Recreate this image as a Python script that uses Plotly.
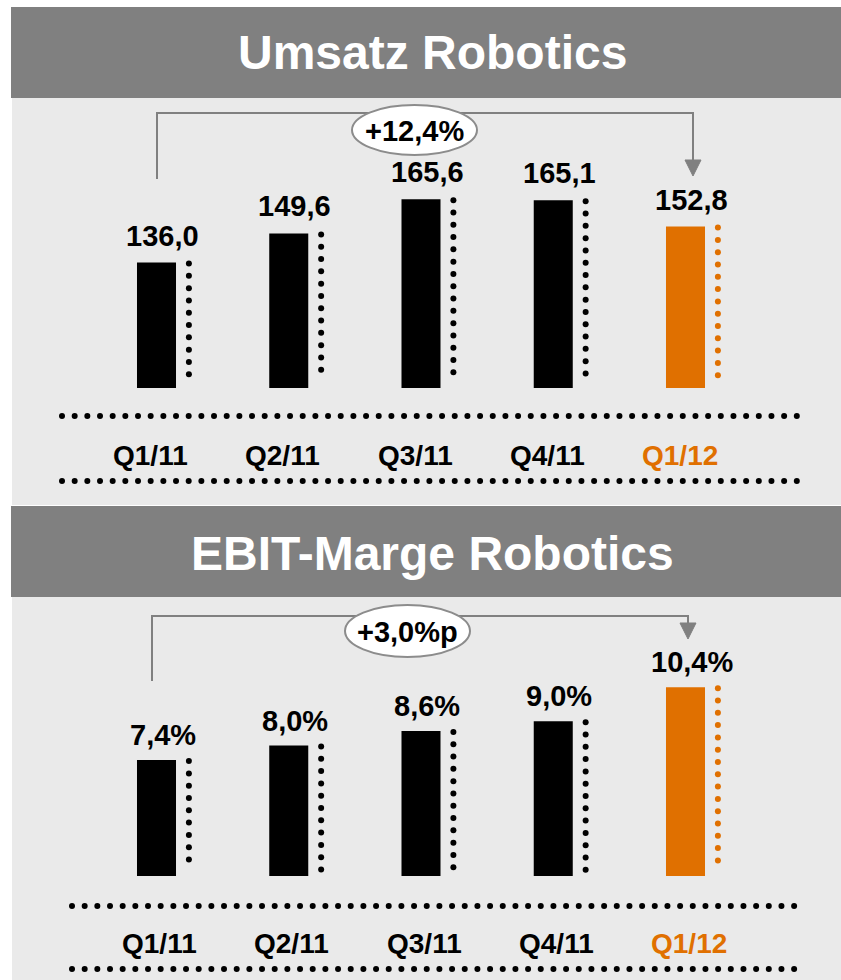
import numpy as np
import plotly.graph_objects as go

# ---------------- data ----------------
quarters = ["Q1/11", "Q2/11", "Q3/11", "Q4/11", "Q1/12"]
umsatz = [136.0, 149.6, 165.6, 165.1, 152.8]
umsatz_labels = ["136,0", "149,6", "165,6", "165,1", "152,8"]
ebit = [7.4, 8.0, 8.6, 9.0, 10.4]
ebit_labels = ["7,4%", "8,0%", "8,6%", "9,0%", "10,4%"]
titles = ["Umsatz Robotics", "EBIT-Marge Robotics"]
changes = ["+12,4%", "+3,0%p"]

# ---------------- style ----------------
W, H = 841, 980
BLACK = "#000000"
ORANGE = "#E07000"
HEADER = "#808080"
PANEL = "#EAEAEA"
BRACKET = "#808080"
FONT = "Liberation Sans, Arial, Helvetica, sans-serif"
colors = [BLACK, BLACK, BLACK, BLACK, ORANGE]
DOT_GAP = 12.3   # px between dots
DOT_SIZE = 6


def px(x):
    return x / W


def py(y):
    return 1 - y / H


idx = list(range(len(quarters)))
X0 = -156.5 / 132.25
X1 = X0 + W / 132.25
BAR_W = 0.295
DOT_OFF = 0.245

panels = [
    dict(vals=umsatz, labels=umsatz_labels, xa="x", ya="y", ypx=(388, 100),
         yr=(77.44, 211.9), head=(7, 98), panel=(98, 505), title_y=53,
         dots=(416, 481), dots_x=(62, 798), tick_y=455, lbl_shift=9,
         bracket=dict(xl=157, xr=693, yh=113, yl=179, ya=160),
         ell=(414.5, 130, 125, 50), tick_shift=-6),
    dict(vals=ebit, labels=ebit_labels, xa="x2", ya="y2", ypx=(876, 600),
         yr=(2.633, 13.986), head=(506, 597), panel=(597, 980), title_y=553,
         dots=(906, 969), dots_x=(72, 806), tick_y=943, lbl_shift=7,
         bracket=dict(xl=152, xr=688, yh=616, yl=681, ya=623),
         ell=(407.5, 631, 125, 52), tick_shift=3),
]

fig = go.Figure()
shapes = []
annotations = []

for k, p in enumerate(panels):
    # backgrounds
    shapes.append(dict(type="rect", xref="paper", yref="paper", layer="below",
                       x0=px(11), x1=1, y0=py(p["head"][1]), y1=py(p["head"][0]),
                       fillcolor=HEADER, line=dict(width=0)))
    shapes.append(dict(type="rect", xref="paper", yref="paper", layer="below",
                       x0=px(12), x1=1, y0=py(p["panel"][1]), y1=py(p["panel"][0]),
                       fillcolor=PANEL, line=dict(width=0)))
    # title
    annotations.append(dict(text=titles[k], xref="paper", yref="paper", x=px(433), y=py(p["title_y"]),
                            xanchor="center", yanchor="middle", showarrow=False,
                            font=dict(family=FONT, size=48, color="white", weight="bold")))
    # bars
    fig.add_trace(go.Bar(x=idx, y=p["vals"], width=BAR_W, marker=dict(color=colors, line=dict(width=0)),
                         xaxis=p["xa"], yaxis=p["ya"], showlegend=False, hoverinfo="skip"))
    # dotted lines next to bars (round dots)
    ppu = (p["ypx"][0] - p["ypx"][1]) / (p["yr"][1] - p["yr"][0])
    step = DOT_GAP / ppu
    for i, v in enumerate(p["vals"]):
        ys = np.arange(v - 1.0 / ppu, p["yr"][0] + 6.0 / ppu, -step)
        fig.add_trace(go.Scatter(x=[i + DOT_OFF] * len(ys), y=ys, mode="markers",
                                 marker=dict(color=colors[i], size=DOT_SIZE, symbol="circle", line=dict(width=0)),
                                 xaxis=p["xa"], yaxis=p["ya"], showlegend=False, hoverinfo="skip"))
        annotations.append(dict(text=p["labels"][i], x=i, y=v, xref=p["xa"], yref=p["ya"],
                                xanchor="center", yanchor="bottom", xshift=6, yshift=p["lbl_shift"],
                                showarrow=False,
                                font=dict(family=FONT, size=29, color=BLACK, weight="bold")))
        annotations.append(dict(text=quarters[i], x=i, y=py(p["tick_y"]), xref=p["xa"], yref="paper",
                                xanchor="center", yanchor="middle", xshift=p["tick_shift"], showarrow=False,
                                font=dict(family=FONT, size=28, color=colors[i], weight="bold")))
    # horizontal dotted rules (on a full-figure pixel overlay axis)
    for yy in p["dots"]:
        xs = np.arange(p["dots_x"][0], p["dots_x"][1] + 0.1, DOT_GAP * 1.03)
        fig.add_trace(go.Scatter(x=xs, y=[yy] * len(xs), mode="markers",
                                 marker=dict(color=BLACK, size=DOT_SIZE, symbol="circle", line=dict(width=0)),
                                 xaxis="x3", yaxis="y3", showlegend=False, hoverinfo="skip"))
    # bracket arrow
    b = p["bracket"]
    path = "M %f,%f L %f,%f L %f,%f L %f,%f" % (px(b["xl"]), py(b["yl"]), px(b["xl"]), py(b["yh"]),
                                                px(b["xr"]), py(b["yh"]), px(b["xr"]), py(b["ya"]))
    shapes.append(dict(type="path", xref="paper", yref="paper", path=path,
                       line=dict(color=BRACKET, width=2)))
    tri = "M %f,%f L %f,%f L %f,%f Z" % (px(b["xr"] - 8), py(b["ya"]), px(b["xr"] + 8), py(b["ya"]),
                                         px(b["xr"]), py(b["ya"] + 16))
    shapes.append(dict(type="path", xref="paper", yref="paper", path=tri,
                       fillcolor=BRACKET, line=dict(color=BRACKET, width=1)))
    ex, ey, ew, eh = p["ell"]
    shapes.append(dict(type="circle", xref="paper", yref="paper", x0=px(ex - ew / 2), x1=px(ex + ew / 2),
                       y0=py(ey + eh / 2), y1=py(ey - eh / 2), fillcolor="white",
                       line=dict(color="#8C8C8C", width=2)))
    annotations.append(dict(text=changes[k], xref="paper", yref="paper", x=px(ex), y=py(ey + 1),
                            xanchor="center", yanchor="middle", showarrow=False,
                            font=dict(family=FONT, size=29, color=BLACK, weight="bold")))

axis_common = dict(showgrid=False, zeroline=False, showticklabels=False, showline=False, ticks="",
                   fixedrange=True)
fig.update_layout(
    width=W, height=H,
    margin=dict(l=0, r=0, t=0, b=0),
    paper_bgcolor="white",
    plot_bgcolor="rgba(0,0,0,0)",
    showlegend=False,
    xaxis=dict(domain=[0, 1], range=[X0, X1], **axis_common),
    yaxis=dict(domain=[py(panels[0]["ypx"][0]), py(panels[0]["ypx"][1])], range=list(panels[0]["yr"]),
               **axis_common),
    xaxis2=dict(domain=[0, 1], range=[X0, X1], anchor="y2", **axis_common),
    yaxis2=dict(domain=[py(panels[1]["ypx"][0]), py(panels[1]["ypx"][1])], range=list(panels[1]["yr"]),
                anchor="x2", **axis_common),
    xaxis3=dict(domain=[0, 1], range=[0, W], anchor="y3", **axis_common),
    yaxis3=dict(domain=[0, 1], range=[H, 0], anchor="x3", **axis_common),
    shapes=shapes,
    annotations=annotations,
)

fig.write_html("out.html", config={"displayModeBar": False, "staticPlot": True},
               post_script="document.body.style.margin='0';")
